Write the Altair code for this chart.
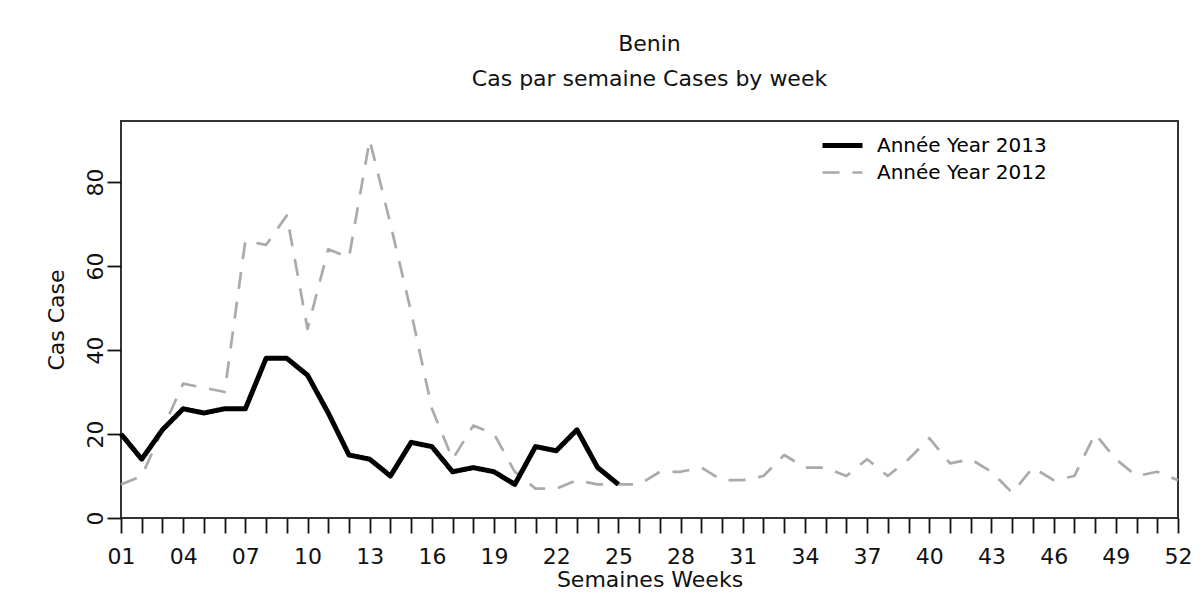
import altair as alt
import pandas as pd

# ---- data ----
series_names = ["Année Year 2013", "Année Year 2012"]
weeks_2013 = [1, 2, 3, 4, 5, 6, 7, 8, 9, 10, 11, 12, 13, 14, 15, 16, 17, 18, 19, 20,
              21, 22, 23, 24, 25]
cases_2013 = [20, 14, 21, 26, 25, 26, 26, 38, 38, 34, 25, 15, 14, 10, 18, 17, 11, 12, 11, 8,
              17, 16, 21, 12, 8]
weeks_2012 = [1, 2, 3, 4, 5, 6, 7, 8, 9, 10, 11, 12, 13, 14, 15, 16, 17, 18, 19, 20,
              21, 22, 23, 24, 25, 26, 27, 28, 29, 30, 31, 32, 33, 34, 35, 36, 37, 38, 39, 40,
              41, 42, 43, 44, 45, 46, 47, 48, 49, 50, 51, 52]
cases_2012 = [8, 10, 21, 32, 31, 30, 66, 65, 72, 45, 64, 62, 90, 70, 49, 26, 14, 22, 20, 11,
              7, 7, 9, 8, 8, 8, 11, 11, 12, 9, 9, 10, 15, 12, 12, 10, 14, 10, 14, 19,
              13, 14, 11, 6, 12, 9, 10, 20, 14, 10, 11, 9]
tick_weeks = weeks_2012
label_weeks = [1, 4, 7, 10, 13, 16, 19, 22, 25, 28, 31, 34, 37, 40, 43, 46, 49, 52]
label_texts = ["01", "04", "07", "10", "13", "16", "19", "22", "25", "28", "31", "34",
               "37", "40", "43", "46", "49", "52"]
y_ticks = [0, 20, 40, 60, 80]

rows = []
for w, c in zip(weeks_2012, cases_2012):
    rows.append({"week": w, "cases": c, "series": series_names[1]})
for w, c in zip(weeks_2013, cases_2013):
    rows.append({"week": w, "cases": c, "series": series_names[0]})
df = pd.DataFrame(rows)

FONT = "DejaVu Sans"
lw = "[" + ",".join(str(v) for v in label_weeks) + "]"
lt = "[" + ",".join("'" + t + "'" for t in label_texts) + "]"
label_expr = f"indexof({lw}, datum.value) >= 0 ? {lt}[indexof({lw}, datum.value)] : ''"

legend = alt.Legend(
    orient="none", legendX=699, legendY=11, title=None,
    symbolType="stroke", symbolSize=1600, labelFont=FONT, labelFontSize=20,
    labelColor="black", labelOffset=12, labelLimit=0, clipHeight=27,
    rowPadding=0, padding=0,
)

chart = alt.Chart(df).mark_line(strokeJoin="round").encode(
    x=alt.X(
        "week:Q",
        scale=alt.Scale(domain=[1, 52], nice=False, zero=False),
        axis=alt.Axis(
            values=tick_weeks, labelExpr=label_expr, title="Semaines Weeks",
            grid=False, domain=False, tickSize=15, tickWidth=1.8, tickColor="#111",
            labelFont=FONT, labelFontSize=22, labelColor="#111",
            labelBaseline="alphabetic", labelPadding=30, labelOverlap=False,
            labelFlush=False, titleFont=FONT, titleFontSize=22, titleFontWeight="normal",
            titleColor="#111", titleBaseline="alphabetic", titleY=68,
        ),
    ),
    y=alt.Y(
        "cases:Q",
        scale=alt.Scale(domain=[0, 94.5], nice=False, zero=True),
        axis=alt.Axis(
            values=y_ticks, title="Cas Case", grid=False, domain=False,
            tickSize=14, tickWidth=1.8, tickColor="#111",
            labelFont=FONT, labelFontSize=22, labelColor="#111", labelAngle=270,
            labelAlign="center", labelBaseline="alphabetic", labelPadding=5,
            titleFont=FONT, titleFontSize=22, titleFontWeight="normal",
            titleColor="#111", titleAngle=270, titleBaseline="alphabetic",
            titleAlign="center", titleX=-58, titleY=198.5,
        ),
    ),
    color=alt.Color(
        "series:N",
        scale=alt.Scale(domain=series_names, range=["#000000", "#aaaaaa"]),
        legend=legend,
    ),
    strokeDash=alt.StrokeDash(
        "series:N",
        scale=alt.Scale(domain=series_names, range=[[1, 0], [17, 13]]),
        legend=legend,
    ),
    strokeWidth=alt.StrokeWidth(
        "series:N",
        scale=alt.Scale(domain=series_names, range=[5, 2.7]),
        legend=legend,
    ),
).properties(
    width=1057,
    height=397,
    autosize=alt.AutoSizeParams(type="none"),
    padding={"left": 113, "top": 113, "right": 16, "bottom": 75},
    background="white",
    title=alt.TitleParams(
        text="Benin", subtitle="Cas par semaine Cases by week",
        font=FONT, subtitleFont=FONT, fontSize=22, subtitleFontSize=22,
        fontWeight="normal", color="#111", subtitleColor="#111",
        anchor="middle", offset=30, subtitlePadding=13,
    ),
).configure_view(
    stroke="#333", strokeWidth=2
)

chart.save("out.html", embed_options={"renderer": "svg", "actions": False})
